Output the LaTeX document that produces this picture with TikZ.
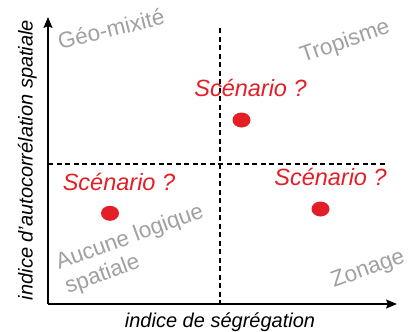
\documentclass[tikz,border=0pt]{standalone}
\usepackage{fontspec}
\setmainfont{Liberation Sans}
\usetikzlibrary{arrows.meta,shapes.geometric}
\definecolor{scred}{RGB}{228,30,38}
\definecolor{lblgray}{RGB}{160,160,160}
\begin{document}
\begin{tikzpicture}[x=1bp,y=-1bp,
  axis/.style={line width=1.4bp,-{Stealth[length=11bp,width=9bp,inset=2bp]}},
  divider/.style={line width=1.1bp,dash pattern=on 5bp off 3.5bp},
  scen/.style={text=scred,font=\fontsize{23.5bp}{26bp}\selectfont\itshape,inner sep=0pt,anchor=base},
  zone/.style={text=lblgray,font=\fontsize{22.5bp}{25bp}\selectfont,inner sep=0pt,anchor=base west},
  axlabel/.style={font=\fontsize{20bp}{22bp}\selectfont\itshape,inner sep=0pt,anchor=base},
  dot/.style={ellipse,fill=scred,draw=none,minimum width=18bp,minimum height=15bp,inner sep=0pt}]
\useasboundingbox (0,0) rectangle (411,332);
% axes
\coordinate (O) at (48,304);
\coordinate (ytop) at (48,17);
\coordinate (xend) at (397,304);
\coordinate (vtop) at (220,28);
\coordinate (vbot) at (220,304);
\coordinate (hl) at (48,164);
\coordinate (hr) at (386,164);
\draw[divider] (vtop) -- (vbot);
\draw[divider] (hl) -- (hr);
\draw[axis] (O) -- (ytop);
\draw[axis] (O) -- (xend);
% axis labels
\node[axlabel] (xlab) at (220,327) {indice de ségrégation};
\node[axlabel,rotate=90] (ylab) at (32.5,160) {indice d’autocorrélation spatiale};
% zone labels
\node[zone,rotate=14] (geo) at (60,50) {Géo-mixité};
\node[zone,rotate=19] (trop) at (303,63) {Tropisme};
\node[zone,rotate=20] (auc1) at (59,270) {Aucune logique};
\node[zone,rotate=20] (auc2) at (68,294) {spatiale};
\node[zone,rotate=20] (zon) at (334,288) {Zonage};
% scenarios
\node[scen] (s1) at (250.5,96.7) {Scénario ?};
\node[scen] (s2) at (119,190.7) {Scénario ?};
\node[scen] (s3) at (330.5,185) {Scénario ?};
\node[dot] (d1) at (241.5,120) {};
\node[dot] (d2) at (110,213.3) {};
\node[dot] (d3) at (320.5,209) {};
\end{tikzpicture}
\end{document}
